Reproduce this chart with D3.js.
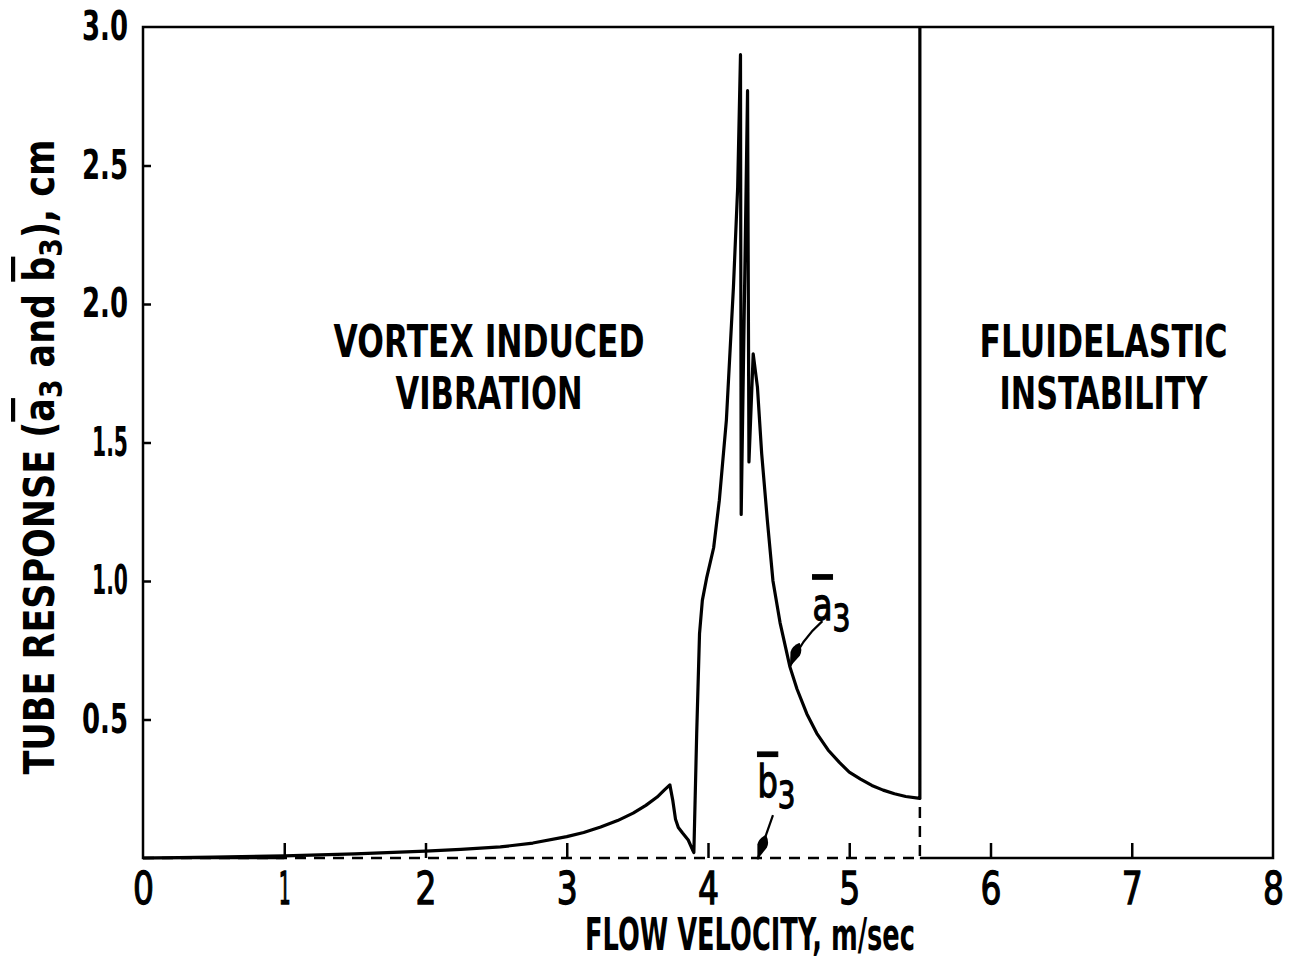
<!DOCTYPE html>
<html>
<head>
<meta charset="utf-8">
<style>
  body { margin: 0; background: #fff; }
  text { font-family: "DejaVu Sans", sans-serif; font-weight: bold; fill: #000; }
</style>
</head>
<body>
<svg width="1301" height="965"></svg>
<script src="https://cdn.jsdelivr.net/npm/d3@7/dist/d3.min.js"></script>
<script>
// a3 response (solid curve), flow velocity in m/sec, response in cm
var a3Velocity = [0, 0.5, 1, 1.5, 2, 2.25, 2.53, 2.76, 3.0, 3.12, 3.24, 3.36, 3.47, 3.56, 3.64, 3.69, 3.73,
  3.75, 3.77, 3.79, 3.82, 3.86, 3.89, 3.90,
  3.92, 3.94, 3.96, 3.99, 4.04, 4.08, 4.13, 4.18, 4.21, 4.23, 4.235, 4.28, 4.29, 4.32, 4.35, 4.38, 4.42, 4.46, 4.51,
  4.58, 4.63, 4.70, 4.77, 4.85, 4.93, 5.0, 5.08, 5.16, 5.24, 5.32, 5.40, 5.5, 5.5];
var a3Response = [0, 0.003, 0.008, 0.015, 0.025, 0.031, 0.04, 0.054, 0.077, 0.092, 0.112, 0.135, 0.162, 0.19, 0.22, 0.245, 0.264,
  0.21, 0.14, 0.11, 0.09, 0.065, 0.03, 0.02,
  0.45, 0.81, 0.93, 1.01, 1.12, 1.29, 1.58, 2.06, 2.42, 2.9, 1.24, 2.77, 1.43, 1.82, 1.70, 1.46, 1.22, 1.0, 0.85,
  0.69, 0.61, 0.52, 0.45, 0.39, 0.345, 0.31, 0.285, 0.262, 0.245, 0.232, 0.222, 0.215, 3.0];
// b3 response (dashed)
var b3Velocity = [0, 5.5, 5.5];
var b3Response = [0, 0, 0.215];

var xTicks = [0, 1, 2, 3, 4, 5, 6, 7, 8];
var yTicks = [0.5, 1.0, 1.5, 2.0, 2.5, 3.0];
var instabilityVelocity = 5.5;

var svg = d3.select('svg');
var margin = { left: 143, right: 28, top: 27, bottom: 107 };
var width = +svg.attr('width') - margin.left - margin.right;
var height = +svg.attr('height') - margin.top - margin.bottom;

var x = d3.scaleLinear().domain([0, 8]).range([margin.left, margin.left + width]);
var y = d3.scaleLinear().domain([0, 3]).range([margin.top + height, margin.top]);

var g = svg.append('g');

// frame: left, top, right; bottom only beyond the instability line
g.append('path')
  .attr('d', d3.line()([[x(instabilityVelocity), y(0)], [x(8), y(0)], [x(8), y(3)], [x(0), y(3)], [x(0), y(0)], [x(1), y(0)]]))
  .attr('fill', 'none').attr('stroke', '#000').attr('stroke-width', 2.5);

// x axis: inward ticks, labels below
var xAxis = d3.axisBottom(x).tickValues(xTicks).tickSizeInner(-15).tickSizeOuter(0).tickPadding(30)
  .tickFormat(d3.format('d'));
var gx = g.append('g').attr('transform', 'translate(0,' + y(0) + ')').call(xAxis);
gx.select('.domain').remove();
gx.selectAll('.tick line').attr('stroke', '#000').attr('stroke-width', 2.5)
  .attr('display', function (d) { return (d === 0 || d === 8) ? 'none' : null; });
gx.selectAll('.tick text').attr('font-size', 44).attr('dy', '0.71em').attr('y', 15)
  .style('font-weight', 'normal').attr('stroke', '#000').attr('stroke-width', 1.3)
  .attr('textLength', function (d) { return d === 1 ? 12 : 21; })
  .attr('lengthAdjust', 'spacingAndGlyphs');

// y axis: inward ticks
var yAxis = d3.axisLeft(y).tickValues(yTicks).tickSizeInner(-8).tickSizeOuter(0).tickPadding(16)
  .tickFormat(d3.format('.1f'));
var gy = g.append('g').attr('transform', 'translate(' + x(0) + ',0)').call(yAxis);
gy.select('.domain').remove();
gy.selectAll('.tick line').attr('stroke', '#000').attr('stroke-width', 2.5)
  .attr('display', function (d) { return d === 3 ? 'none' : null; });
gy.selectAll('.tick text').attr('font-size', 40).attr('x', -15)
  .attr('textLength', function (d) { return (d >= 1 && d < 2) ? 36 : 46; })
  .attr('lengthAdjust', 'spacingAndGlyphs');

var lineGen = d3.line().x(function (d) { return x(d[0]); }).y(function (d) { return y(d[1]); });

g.append('path')
  .datum(d3.zip(a3Velocity, a3Response))
  .attr('d', lineGen)
  .attr('fill', 'none').attr('stroke', '#000').attr('stroke-width', 3.2)
  .attr('stroke-linejoin', 'round');

g.append('path')
  .datum(d3.zip(b3Velocity, b3Response))
  .attr('d', lineGen)
  .attr('fill', 'none').attr('stroke', '#000').attr('stroke-width', 2.5)
  .attr('stroke-dasharray', '11,8');

// region labels
var regionLabels = [
  { v: 2.45, r: 1.81, lines: ['VORTEX INDUCED', 'VIBRATION'], widths: [311, 187] },
  { v: 6.8, r: 1.81, lines: ['FLUIDELASTIC', 'INSTABILITY'], widths: [248, 208] }
];
regionLabels.forEach(function (lab) {
  lab.lines.forEach(function (s, i) {
    g.append('text').attr('text-anchor', 'middle').attr('font-size', 45)
      .attr('x', x(lab.v)).attr('y', y(lab.r) + i * 52)
      .attr('textLength', lab.widths[i]).attr('lengthAdjust', 'spacingAndGlyphs')
      .text(s);
  });
});

// curve labels with leader arrows
var curveLabels = [
  { name: 'a', v: 4.74, r: 0.86, from: [4.81, 0.855], to: [4.58, 0.69], bend: -0.12 },
  { name: 'b', v: 4.35, r: 0.22, from: [4.46, 0.155], to: [4.35, -0.005], bend: 0.0 }
];
svg.append('defs').append('marker')
  .attr('id', 'head').attr('viewBox', '0 0 26 12').attr('refX', 26).attr('refY', 6)
  .attr('markerWidth', 26).attr('markerHeight', 12).attr('markerUnits', 'userSpaceOnUse')
  .attr('orient', 'auto')
  .append('path').attr('d', 'M0,6 Q6,0 12,1 L26,6 L12,11 Q6,12 0,6 Z').attr('fill', '#000');

curveLabels.forEach(function (c) {
  var t = g.append('text').attr('x', x(c.v)).attr('y', y(c.r)).attr('font-size', 44)
    .style('font-weight', 'normal').attr('stroke', '#000').attr('stroke-width', 1.3);
  t.append('tspan').style('text-decoration', 'overline').text(c.name);
  t.append('tspan').attr('font-size', 38).attr('dy', 11).text('3');
  t.attr('textLength', 38).attr('lengthAdjust', 'spacingAndGlyphs');
  var p0 = [x(c.from[0]), y(c.from[1])], p1 = [x(c.to[0]), y(c.to[1])];
  var mx = (p0[0] + p1[0]) / 2 + (p1[1] - p0[1]) * c.bend;
  var my = (p0[1] + p1[1]) / 2 - (p1[0] - p0[0]) * c.bend;
  g.append('path')
    .attr('d', 'M' + p0 + ' Q' + mx + ',' + my + ' ' + p1)
    .attr('fill', 'none').attr('stroke', '#000').attr('stroke-width', 2.2)
    .attr('marker-end', 'url(#head)');
});

// axis titles
svg.append('text')
  .attr('x', 750).attr('y', 950)
  .attr('text-anchor', 'middle').attr('font-size', 45)
  .attr('textLength', 330).attr('lengthAdjust', 'spacingAndGlyphs')
  .text('FLOW VELOCITY, m/sec');

var yt = svg.append('text')
  .attr('transform', 'translate(54,457) rotate(-90)')
  .attr('text-anchor', 'middle').attr('font-size', 42)
  .attr('textLength', 635).attr('lengthAdjust', 'spacingAndGlyphs');
yt.append('tspan').text('TUBE RESPONSE (');
yt.append('tspan').style('text-decoration', 'overline').text('a');
yt.append('tspan').attr('font-size', 32).attr('dy', 8).text('3');
yt.append('tspan').attr('dy', -8).text(' and ');
yt.append('tspan').style('text-decoration', 'overline').text('b');
yt.append('tspan').attr('font-size', 32).attr('dy', 8).text('3');
yt.append('tspan').attr('dy', -8).text('), cm');
</script>
</body>
</html>
